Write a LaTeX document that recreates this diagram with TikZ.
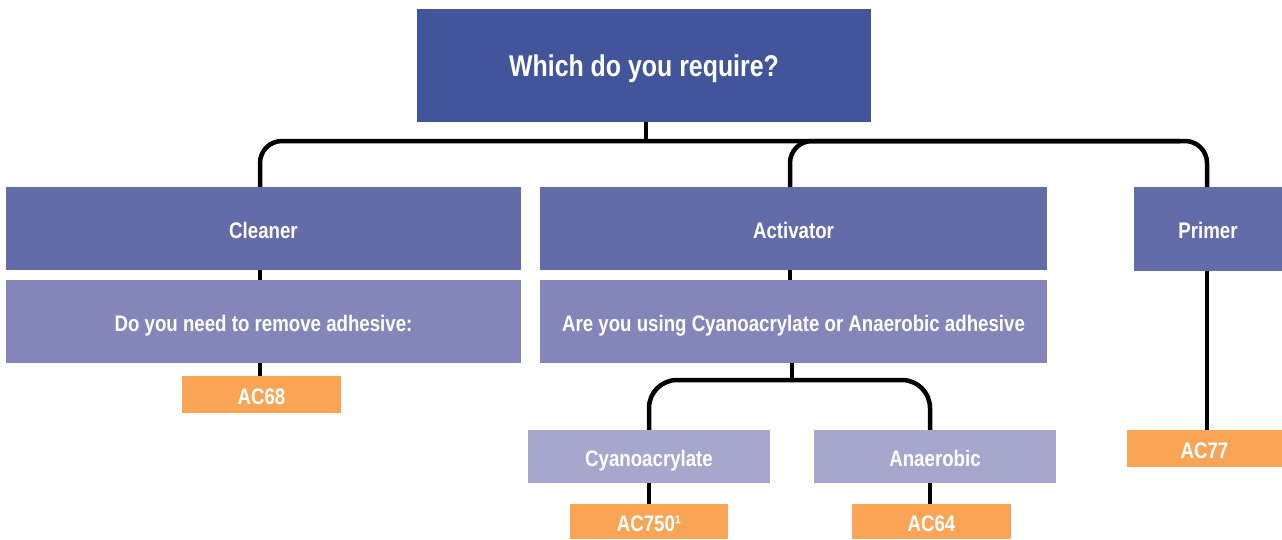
\documentclass[tikz,border=0pt]{standalone}
\usepackage{fontspec}
\setmainfont[FakeStretch=0.83]{Liberation Sans}
\definecolor{topblue}{HTML}{42559B}
\definecolor{lvlone}{HTML}{636BA8}
\definecolor{qbox}{HTML}{8485B8}
\definecolor{subbox}{HTML}{A7A7CD}
\definecolor{prod}{HTML}{F9A555}
\begin{document}
\begin{tikzpicture}[x=1pt,y=-1pt,
  box/.style={rectangle, inner sep=0pt, text=white, text height=19.5pt, text depth=0pt, font=\bfseries\fontsize{22.5}{26}\selectfont},
  conn/.style={draw=black, line width=4.5pt}]
\useasboundingbox (0,0) rectangle (1282,539);
\fill[white] (0,0) rectangle (1282,539);
% nodes
\node[box, fill=topblue, minimum width=454pt, minimum height=113pt, text height=21.5pt, font=\bfseries\fontsize{30}{34}\selectfont] (top) at (644,65.5) {Which do you require?};
\node[box, fill=lvlone, minimum width=515pt, minimum height=83pt] (cleaner) at (263.5,228.5) {Cleaner};
\node[box, fill=lvlone, minimum width=507pt, minimum height=83pt] (activator) at (793.5,228.5) {Activator};
\node[box, fill=lvlone, minimum width=148pt, minimum height=84pt] (primer) at (1208,229) {Primer};
\node[box, fill=qbox, minimum width=515pt, minimum height=83pt] (q1) at (263.5,321.5) {Do you need to remove adhesive:};
\node[box, fill=qbox, minimum width=507pt, minimum height=83pt] (q2) at (793.5,321.5) {Are you using Cyanoacrylate or Anaerobic adhesive};
\node[box, fill=prod, minimum width=159pt, minimum height=37pt] (ac68) at (261.5,394.5) {AC68};
\node[box, fill=subbox, minimum width=242pt, minimum height=53pt] (cyano) at (649,456.5) {Cyanoacrylate};
\node[box, fill=subbox, minimum width=242pt, minimum height=53pt] (anaer) at (935,456.5) {Anaerobic};
\node[box, fill=prod, minimum width=158pt, minimum height=35pt] (ac750) at (649,521.5) {AC750¹};
\node[box, fill=prod, minimum width=159pt, minimum height=35pt] (ac64) at (931.5,521.5) {AC64};
\node[box, fill=prod, minimum width=155pt, minimum height=37pt] (ac77) at (1204.5,448.5) {AC77};
% helper coordinates
\coordinate (bus) at (646,141);
\coordinate (busR) at (1180,141);
\coordinate (xL) at (260,0);
\coordinate (xA) at (790,0);
\coordinate (xP) at (1207,0);
\coordinate (bus2) at (792,380);
\coordinate (xC) at (649,0);
\coordinate (xN) at (930,0);
% connectors
\draw[conn] (top.south -| bus) -- (bus);
\draw[conn, rounded corners=22pt] (cleaner.north -| xL) |- (bus) -| (primer.north -| xP);
\draw[conn, rounded corners=22pt] (activator.north -| xA) |- (busR);
\draw[conn] (cleaner.south -| xL) -- (q1.north -| xL);
\draw[conn] (q1.south -| xL) -- (ac68.north -| xL);
\draw[conn] (activator.south -| xA) -- (q2.north -| xA);
\draw[conn] (q2.south -| bus2) -- (bus2);
\draw[conn, rounded corners=28pt] (cyano.north -| xC) |- (bus2) -| (anaer.north -| xN);
\draw[conn] (cyano.south -| xC) -- (ac750.north -| xC);
\draw[conn] (anaer.south -| xN) -- (ac64.north -| xN);
\draw[conn] (primer.south -| xP) -- (ac77.north -| xP);
\end{tikzpicture}
\end{document}
